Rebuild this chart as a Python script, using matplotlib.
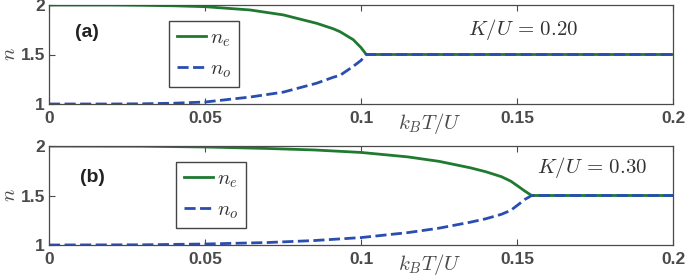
import numpy as np
import matplotlib
matplotlib.use("Agg")
import matplotlib.pyplot as plt

# ---- data ----
# panel (a), K/U = 0.20
t_a = [0.0, 0.02, 0.03, 0.04, 0.05, 0.0644, 0.0751, 0.0858, 0.0911, 0.0933,
       0.0975, 0.100, 0.1017, 0.2]
ne_a = [2.0, 2.0, 1.997, 1.992, 1.983, 1.95, 1.90, 1.815, 1.76, 1.73,
        1.65, 1.57, 1.5, 1.5]
no_a = [1.0, 1.0, 1.002, 1.008, 1.02, 1.07, 1.12, 1.21, 1.27, 1.29,
        1.38, 1.44, 1.5, 1.5]

# panel (b), K/U = 0.30
t_b = [0.0, 0.03, 0.05, 0.07, 0.085, 0.1, 0.115, 0.125, 0.135, 0.14,
       0.145, 0.148, 0.1505, 0.1525, 0.1547, 0.2]
ne_b = [2.0, 1.998, 1.99, 1.975, 1.96, 1.935, 1.89, 1.845, 1.78, 1.74,
        1.69, 1.645, 1.59, 1.545, 1.5, 1.5]
no_b = [1.0, 1.002, 1.01, 1.025, 1.045, 1.075, 1.125, 1.17, 1.23, 1.265,
        1.31, 1.35, 1.41, 1.46, 1.5, 1.5]

xticks = [0, 0.05, 0.1, 0.15, 0.2]
xticklabels = ["0", "0.05", "0.1", "0.15", "0.2"]
yticks = [1, 1.5, 2]
yticklabels = ["1", "1.5", "2"]

GREEN = "#1f7a30"
BLUE = "#2a4db0"
GRAY = "#4a4a4a"

plt.rcParams["font.family"] = ["Liberation Sans", "DejaVu Sans"]
plt.rcParams["mathtext.fontset"] = "cm"

fig = plt.figure(figsize=(6.85, 2.8), dpi=100)
ax_a = fig.add_axes([49/685, 1 - 104/280, 624/685, 99/280])
ax_b = fig.add_axes([49/685, 1 - 245/280, 624/685, 99/280])

panels = [
    (ax_a, t_a, ne_a, no_a, "(a)", (0.0122, 1.72), r"$K/U\,=\,0.20$", (0.152, 1.75),
     (204/685, 1 - 54/280)),
    (ax_b, t_b, ne_b, no_b, "(b)", (0.0138, 1.68), r"$K/U\,=\,0.30$", (0.174, 1.78),
     (211/685, 1 - 195/280)),
]

for ax, t, ne, no, tag, tag_pos, ktxt, kpos, legc in panels:
    ax.plot(t, ne, color=GREEN, linewidth=2.0, label="$n_e$")
    ax.plot(t, no, color=BLUE, linewidth=2.0, linestyle=(0, (4, 1.6)), label="$n_o$")
    ax.set_xlim(0, 0.2)
    ax.set_ylim(1, 2)
    ax.set_xticks(xticks)
    ax.set_xticklabels(xticklabels, fontweight="bold", fontsize=12.5, color=GRAY)
    ax.set_yticks(yticks)
    ax.set_yticklabels(yticklabels, fontweight="bold", fontsize=12.5, color=GRAY)
    ax.tick_params(direction="in", top=True, right=False, length=4,
                   width=0.8, color=GRAY)
    ax.tick_params(axis="x", pad=5)
    ax.tick_params(axis="y", pad=3)
    for s in ax.spines.values():
        s.set_color(GRAY)
        s.set_linewidth(0.9)
    ax.text(tag_pos[0], tag_pos[1], tag, fontsize=14, fontweight="bold",
            ha="center", va="center", color="#222222")
    ax.text(kpos[0], kpos[1], ktxt, fontsize=15, ha="center", va="center",
            color="#333333")
    # x label sits next to the tick labels, MATLAB style
    ax.text(0.122, -0.2, "$k_BT/U$", transform=ax.get_xaxis_transform(),
            fontsize=15, ha="center", va="center", color=GRAY)
    ax.set_ylabel("$n$", fontsize=15, color=GRAY, labelpad=1)
    leg = ax.legend(loc="center", bbox_to_anchor=legc,
                    bbox_transform=fig.transFigure, fontsize=15,
                    handlelength=1.4, handletextpad=0.2, labelspacing=0.5,
                    borderpad=0.35, borderaxespad=0, fancybox=False, framealpha=1)
    leg.get_frame().set_edgecolor("#444444")
    leg.get_frame().set_linewidth(1.0)
    for txt in leg.get_texts():
        txt.set_color("#333333")

fig.savefig("out.png", dpi=100)
